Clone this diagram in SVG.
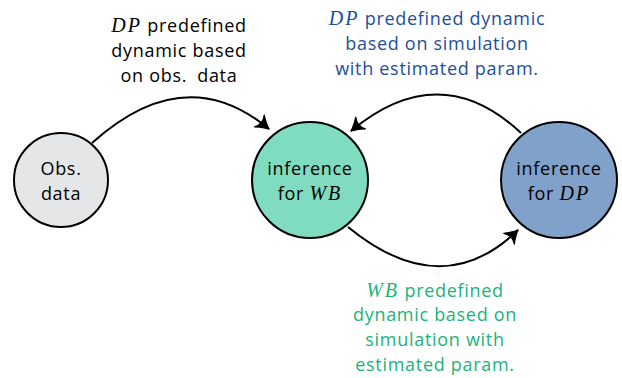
<svg xmlns="http://www.w3.org/2000/svg" width="622" height="378" viewBox="0 0 622 378">
<style>
.node{stroke:#000;stroke-width:2}
.t{font-family:"Open Sans","DejaVu Sans",sans-serif;font-size:18px;letter-spacing:0.7px;text-anchor:middle;fill:#000}
.m{font-family:"Liberation Serif","DejaVu Serif",serif;font-style:italic;font-size:20px;letter-spacing:2px}
.blue{fill:#1c4f9c}
.green{fill:#19b47b}
.edge{fill:none;stroke:#000;stroke-width:2}
</style>
<defs>
<marker id="arr" markerUnits="userSpaceOnUse" markerWidth="20" markerHeight="20" refX="0" refY="0" viewBox="-12 -8 14 16" orient="auto" overflow="visible">
<path d="M-10,-6 Q-4,-1.5 0,0 Q-4,1.5 -10,6 Q-6,0 -10,-6 Z" fill="#000" stroke="#000" stroke-width="1" stroke-linejoin="round"/>
</marker>
</defs>
<rect width="622" height="378" fill="#fff"/>
<g id="obs">
<circle class="node" cx="61" cy="180" r="47" fill="#e5e6e8"/>
<text class="t" x="61" y="175">Obs.</text>
<text class="t" x="61" y="200">data</text>
</g>
<g id="wb">
<circle class="node" cx="310" cy="180" r="58" fill="#80dcc0"/>
<text class="t" x="310" y="175">inference</text>
<text class="t" x="310" y="200">for <tspan class="m">WB</tspan></text>
</g>
<g id="dp">
<circle class="node" cx="559" cy="180" r="58" fill="#80a1ca"/>
<text class="t" x="559" y="175">inference</text>
<text class="t" x="559" y="200">for <tspan class="m">DP</tspan></text>
</g>
<g id="connectors">
<path class="edge" d="M92,143 Q185,59 269,129" marker-end="url(#arr)"/>
<path class="edge" d="M521,133 Q440,57 351,131" marker-end="url(#arr)"/>
<path class="edge" d="M348,227 Q442,304 518,230" marker-end="url(#arr)"/>
</g>
<g id="labels">
<text class="t" x="179" y="32"><tspan class="m">DP</tspan> predefined</text>
<text class="t" x="179" y="57">dynamic based</text>
<text class="t" x="179" y="82">on obs.<tspan dx="10">data</tspan></text>
<text class="t blue" x="437" y="25"><tspan class="m">DP</tspan> predefined dynamic</text>
<text class="t blue" x="437" y="50">based on simulation</text>
<text class="t blue" x="437" y="75">with estimated param.</text>
<text class="t green" x="435" y="297"><tspan class="m">WB</tspan> predefined</text>
<text class="t green" x="435" y="321">dynamic based on</text>
<text class="t green" x="435" y="346">simulation with</text>
<text class="t green" x="435" y="371">estimated param.</text>
</g>
</svg>
